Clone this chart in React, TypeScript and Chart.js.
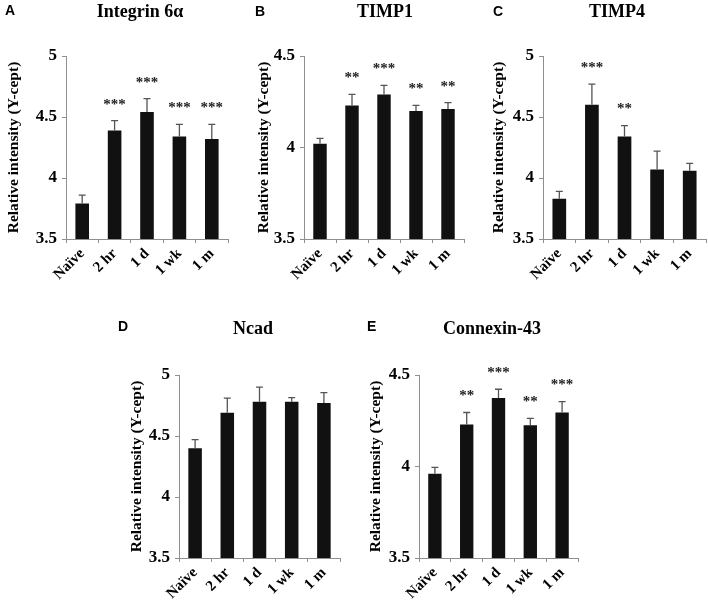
import React, { useEffect, useRef } from 'react';
import { Chart, registerables } from 'chart.js';

Chart.register(...registerables);

const categories = ['Naïve', '2 hr', '1 d', '1 wk', '1 m'];

const integrinMeans = [3.79, 4.39, 4.54, 4.34, 4.32];
const integrinErr = [0.07, 0.08, 0.11, 0.10, 0.12];
const integrinSig = ['', '***', '***', '***', '***'];

const timp1Means = [4.02, 4.23, 4.29, 4.2, 4.21];
const timp1Err = [0.03, 0.06, 0.05, 0.03, 0.035];
const timp1Sig = ['', '**', '***', '**', '**'];

const timp4Means = [3.83, 4.6, 4.34, 4.07, 4.06];
const timp4Err = [0.06, 0.17, 0.09, 0.15, 0.06];
const timp4Sig = ['', '***', '**', '', ''];

const ncadMeans = [4.4, 4.69, 4.78, 4.78, 4.77];
const ncadErr = [0.07, 0.12, 0.12, 0.035, 0.085];
const ncadSig = ['', '', '', '', ''];

const cx43Means = [3.96, 4.23, 4.375, 4.225, 4.295];
const cx43Err = [0.035, 0.065, 0.047, 0.038, 0.06];
const cx43Sig = ['', '**', '***', '**', '***'];

const yTitleText = 'Relative intensity (Y-cept)';

type PanelDef = {
  letter: string;
  title: string;
  means: number[];
  err: number[];
  sig: string[];
  yMin: number;
  yMax: number;
  left: number;
  top: number;
  width: number;
  height: number;
  padTop: number;
  padRight: number;
  xHeight: number;
  yTitlePad: number;
  titleX: number;
  titleY: number;
  letterX: number;
  letterY: number;
};

const panels: PanelDef[] = [
  { letter: 'A', title: 'Integrin 6α', means: integrinMeans, err: integrinErr, sig: integrinSig, yMin: 3.5, yMax: 5,
    left: 0, top: 0, width: 235, height: 300, padTop: 56, padRight: 7, xHeight: 61, yTitlePad: 4.6,
    titleX: 140, titleY: 12, letterX: 5, letterY: 11 },
  { letter: 'B', title: 'TIMP1', means: timp1Means, err: timp1Err, sig: timp1Sig, yMin: 3.5, yMax: 4.5,
    left: 238, top: 0, width: 232, height: 300, padTop: 56, padRight: 6, xHeight: 61, yTitlePad: 16.6,
    titleX: 385, titleY: 12, letterX: 255, letterY: 12 },
  { letter: 'C', title: 'TIMP4', means: timp4Means, err: timp4Err, sig: timp4Sig, yMin: 3.5, yMax: 5,
    left: 477, top: 0, width: 231, height: 300, padTop: 56, padRight: 2, xHeight: 61, yTitlePad: 12.6,
    titleX: 617, titleY: 12, letterX: 493, letterY: 12 },
  { letter: 'D', title: 'Ncad', means: ncadMeans, err: ncadErr, sig: ncadSig, yMin: 3.5, yMax: 5,
    left: 113, top: 300, width: 232, height: 309, padTop: 75, padRight: 5, xHeight: 51, yTitlePad: 14.6,
    titleX: 253, titleY: 329, letterX: 118, letterY: 327 },
  { letter: 'E', title: 'Connexin-43', means: cx43Means, err: cx43Err, sig: cx43Sig, yMin: 3.5, yMax: 4.5,
    left: 353, top: 300, width: 232, height: 309, padTop: 75, padRight: 7, xHeight: 51, yTitlePad: 13.6,
    titleX: 492, titleY: 329, letterX: 367, letterY: 327 },
];

const SERIF = "'Liberation Serif', 'Times New Roman', serif";
const SANS = "'Liberation Sans', Arial, sans-serif";
const AXIS = '#8f8f8f';

function Panel({ p }: { p: PanelDef }) {
  const ref = useRef<HTMLCanvasElement | null>(null);
  useEffect(() => {
    if (!ref.current) return;
    const decor = {
      id: 'decor' + p.letter,
      afterDatasetsDraw(chart: any) {
        const { ctx } = chart;
        const meta = chart.getDatasetMeta(0);
        const ys = chart.scales.y;
        ctx.save();
        ctx.strokeStyle = '#555';
        ctx.lineWidth = 1.3;
        meta.data.forEach((bar: any, i: number) => {
          const yTop = ys.getPixelForValue(p.means[i] + p.err[i]);
          const yBar = ys.getPixelForValue(p.means[i]);
          ctx.beginPath();
          ctx.moveTo(bar.x, yBar);
          ctx.lineTo(bar.x, yTop);
          ctx.moveTo(bar.x - 3.5, yTop);
          ctx.lineTo(bar.x + 3.5, yTop);
          ctx.stroke();
          if (p.sig[i]) {
            ctx.fillStyle = '#222';
            ctx.font = `bold 15px ${SERIF}`;
            ctx.textAlign = 'center';
            ctx.textBaseline = 'middle';
            ctx.fillText(p.sig[i], bar.x, yTop - 16);
          }
        });
        ctx.restore();
      },
      afterDraw(chart: any) {
        const { ctx } = chart;
        ctx.save();
        ctx.fillStyle = '#000';
        ctx.textBaseline = 'middle';
        ctx.textAlign = 'center';
        ctx.font = `bold 18px ${SERIF}`;
        ctx.fillText(p.title, p.titleX - p.left, p.titleY - p.top);
        ctx.textAlign = 'left';
        ctx.font = `bold 14px ${SANS}`;
        ctx.fillText(p.letter, p.letterX - p.left, p.letterY - p.top);
        ctx.restore();
      },
    };
    const chart = new Chart(ref.current, {
      type: 'bar',
      data: {
        labels: categories,
        datasets: [
          {
            data: p.means,
            backgroundColor: '#111111',
            borderWidth: 0,
            barPercentage: 0.42,
            categoryPercentage: 1,
          },
        ],
      },
      options: {
        animation: false,
        responsive: false,
        events: [],
        layout: { padding: { top: p.padTop, right: p.padRight, left: 0, bottom: 0 } },
        plugins: { legend: { display: false }, title: { display: false }, tooltip: { enabled: false } },
        scales: {
          x: {
            offset: true,
            grid: { display: true, drawOnChartArea: false, drawTicks: true, tickLength: 4, color: AXIS, offset: true },
            border: { display: true, color: AXIS, width: 1 },
            ticks: {
              autoSkip: false,
              minRotation: 45,
              maxRotation: 45,
              padding: 2,
              color: '#000',
              font: { family: SERIF, size: 15, weight: 'bold' },
            },
            afterFit: (s: any) => { s.height = p.xHeight; },
          },
          y: {
            min: p.yMin,
            max: p.yMax,
            grid: { display: true, drawOnChartArea: false, drawTicks: true, tickLength: 4, color: AXIS },
            border: { display: true, color: AXIS, width: 1 },
            ticks: {
              stepSize: 0.5,
              padding: 5,
              color: '#000',
              font: { family: SERIF, size: 17, weight: 'bold' },
              callback: (v: any) => String(Number(v)),
            },
            title: {
              display: true,
              text: yTitleText,
              color: '#000',
              font: { family: SERIF, size: 15.5, weight: 'bold' },
              padding: { top: p.yTitlePad, bottom: 0 },
            },
            afterFit: (s: any) => { s.width = 66; },
          },
        },
      } as any,
      plugins: [decor],
    });
    return () => chart.destroy();
  }, [p]);
  return (
    <canvas
      ref={ref}
      width={p.width}
      height={p.height}
      style={{ position: 'absolute', left: p.left, top: p.top, width: p.width, height: p.height }}
    />
  );
}

export default function App() {
  return (
    <div style={{ position: 'absolute', left: 0, top: 0, width: 708, height: 609, background: '#fff' }}>
      {panels.map((p) => (
        <Panel key={p.letter} p={p} />
      ))}
    </div>
  );
}
